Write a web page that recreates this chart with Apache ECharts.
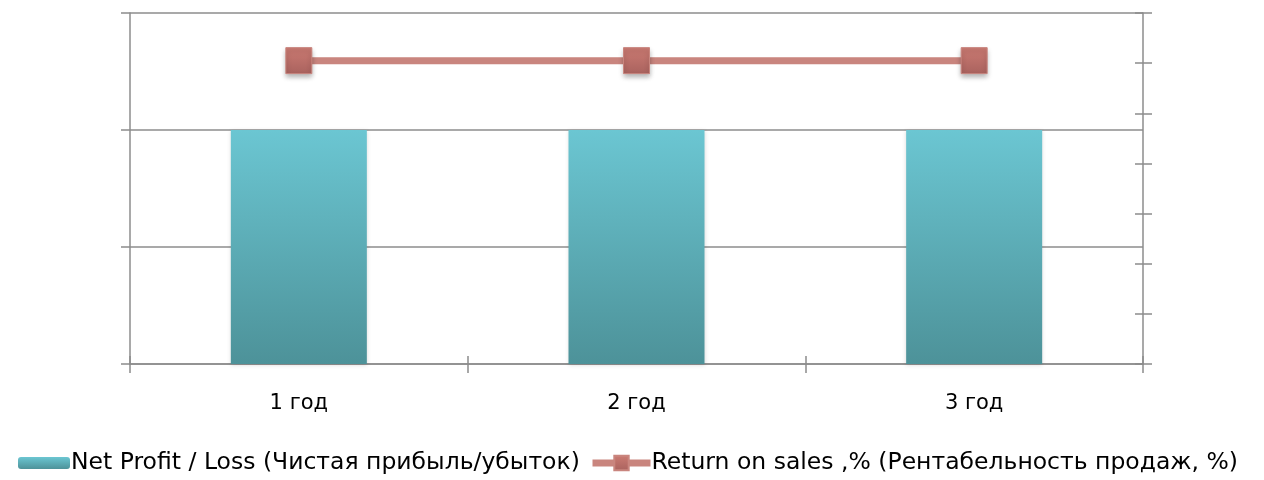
<!DOCTYPE html>
<html><head><meta charset="utf-8">
<script src="https://cdn.jsdelivr.net/npm/echarts@6/dist/echarts.min.js"></script>
<style>html,body{margin:0;padding:0;background:#fff}#c{width:1264px;height:480px}</style>
</head><body><div id="c"></div>
<script>
const categories = ['1 год', '2 год', '3 год'];
const netProfit = [2, 2, 2];
const returnOnSales = [6.05, 6.05, 6.05];
const seriesNames = ['Net Profit / Loss (Чистая прибыль/убыток)', 'Return on sales ,% (Рентабельность продаж, %)'];

const axisColor = '#8c8c8c';
const font = '"DejaVu Sans", sans-serif';
const legendText = { fontSize: 23.5, color: '#000', fontFamily: font, padding: [0, 0, 0, -4] };
const chart = echarts.init(document.getElementById('c'));
chart.setOption({
  animation: false,
  textStyle: { fontFamily: font },
  grid: { left: 130, right: 121, top: 13, bottom: 116 },
  legend: [
    { left: 13, top: 446, itemWidth: 52, itemHeight: 12,
      textStyle: legendText, data: [seriesNames[0]] },
    { left: 584, top: 446, itemWidth: 58, itemHeight: 18,
      textStyle: legendText,
      data: [{ name: seriesNames[1], lineStyle: { width: 7 } }] }
  ],
  xAxis: [
    { type: 'category', data: categories,
      axisLine: { lineStyle: { color: axisColor, width: 1.5 } },
      axisTick: { show: true, length: 9, lineStyle: { color: axisColor, width: 1.5 } },
      axisLabel: { margin: 29, fontSize: 21, color: '#000', fontFamily: font } },
    { type: 'category', data: categories, position: 'bottom',
      axisLine: { show: false },
      axisTick: { show: true, inside: true, length: 8, lineStyle: { color: axisColor, width: 1.5 } },
      axisLabel: { show: false } }
  ],
  yAxis: [
    { type: 'value', min: 0, max: 3, interval: 1, position: 'left',
      axisLine: { show: true, lineStyle: { color: axisColor, width: 1.5 } },
      axisTick: { show: true, length: 9, lineStyle: { color: axisColor, width: 1.5 } },
      axisLabel: { show: false },
      splitLine: { lineStyle: { color: axisColor, width: 1.5 } } },
    { type: 'value', min: 0, max: 7, interval: 1, position: 'right',
      axisLine: { show: true, lineStyle: { color: axisColor, width: 1.5 } },
      axisTick: { show: true, length: 9, lineStyle: { color: axisColor, width: 1.5 } },
      axisLabel: { show: false }, splitLine: { show: false } },
    { type: 'value', min: 0, max: 7, interval: 1, position: 'right',
      axisLine: { show: false },
      axisTick: { show: true, inside: true, length: 8, lineStyle: { color: axisColor, width: 1.5 } },
      axisLabel: { show: false }, splitLine: { show: false } }
  ],
  series: [
    { name: seriesNames[0], type: 'bar', data: netProfit, barWidth: 136, yAxisIndex: 0,
      itemStyle: {
        color: new echarts.graphic.LinearGradient(0, 0, 0, 1, [
          { offset: 0, color: '#6bc6d2' }, { offset: 1, color: '#4d9299' }]),
        shadowColor: 'rgba(0,0,0,0.15)', shadowBlur: 4, shadowOffsetY: 1
      } },
    { name: seriesNames[1], type: 'line', data: returnOnSales, yAxisIndex: 1,
      symbol: 'rect', symbolSize: 26,
      lineStyle: { color: '#c9857e', width: 7 },
      itemStyle: {
        color: new echarts.graphic.LinearGradient(0, 0, 0, 1, [
          { offset: 0, color: '#cc7b73' }, { offset: 1, color: '#a9625e' }]),
        borderColor: '#c9857e', borderWidth: 1,
        shadowColor: 'rgba(0,0,0,0.3)', shadowBlur: 5, shadowOffsetY: 3
      } }
  ]
});
</script></body></html>
